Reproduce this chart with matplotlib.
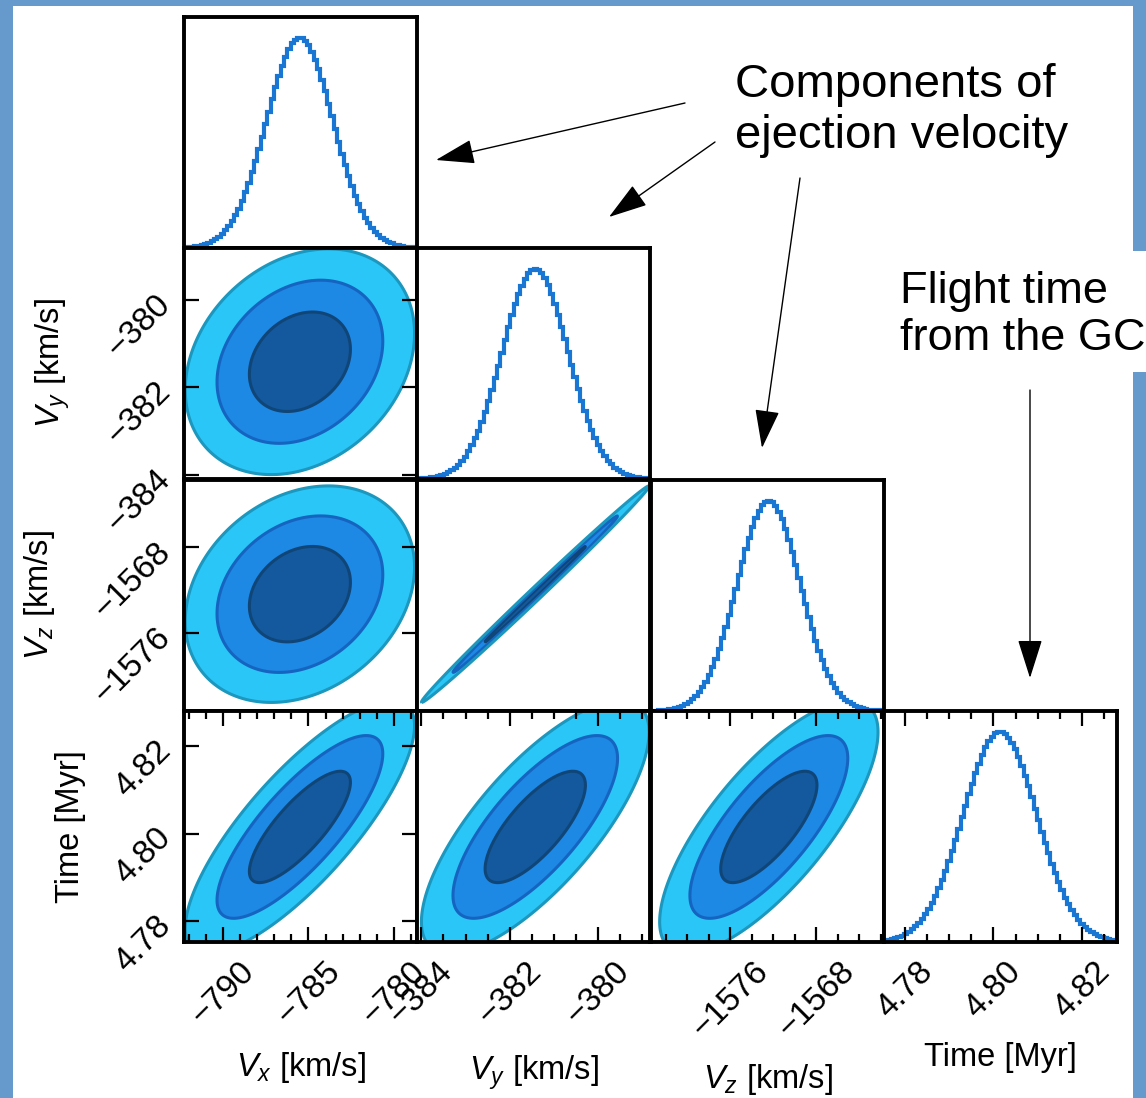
import numpy as np
import matplotlib
matplotlib.use("Agg")
import matplotlib.pyplot as plt
from matplotlib.ticker import MultipleLocator
from matplotlib.patches import Rectangle

plt.rcParams["font.family"] = ["Liberation Sans", "DejaVu Sans"]
plt.rcParams["mathtext.fontset"] = "custom"
plt.rcParams["mathtext.rm"] = "Liberation Sans"
plt.rcParams["mathtext.it"] = "Liberation Sans:italic"

# posterior summary
names = [r"$V_x$ [km/s]", r"$V_y$ [km/s]", r"$V_z$ [km/s]", "Time [Myr]"]
means = [-785.5, -381.42, -1572.4, 4.8015]
sigmas = [1.95, 0.75, 2.95, 0.0084]
corr = [[1.0, 0.25, 0.25, 0.8],
        [0.25, 1.0, 0.997, 0.75],
        [0.25, 0.997, 1.0, 0.75],
        [0.8, 0.75, 0.75, 1.0]]
limits = [(-792.28, -778.65), (-384.1, -378.82), (-1583.35, -1561.7), (4.7752, 4.8280)]
ticks = [[-790, -785, -780], [-384, -382, -380], [-1576, -1568], [4.78, 4.80, 4.82]]
tick_labels = [["\u2212790", "\u2212785", "\u2212780"],
               ["\u2212384", "\u2212382", "\u2212380"],
               ["\u22121576", "\u22121568"],
               ["4.78", "4.80", "4.82"]]
minor_steps = [1, 0.5, 2, 0.005]
probs = [0.6827, 0.9545, 0.9973]   # 1, 2, 3 sigma
nbins = 70

# colours
hist_col = "#1976D2"
fill_cols = ["#14599E", "#1E88E5", "#2BC6F8"]
line_cols = ["#0F4677", "#1565C0", "#1C97BD"]
frame_col = "#6699CC"

W, H = 1146, 1098
fig = plt.figure(figsize=(W / 100, H / 100), dpi=100, facecolor=frame_col)
fig.patches.append(Rectangle((13 / W, 0), (1133 - 13) / W, (H - 6) / H,
                             transform=fig.transFigure, facecolor="white",
                             edgecolor="none", zorder=-10))
fig.patches.append(Rectangle((1120 / W, 1 - 372 / H), 30 / W, 121 / H,
                             transform=fig.transFigure, facecolor="white",
                             edgecolor="none", zorder=-10))

col_x = [184, 417, 651, 884]
row_y = [17, 248, 480, 711]
pw, ph = 233, 231

xlabel_y = [-0.545, -0.567, -0.597, -0.498]
ylabel_x = [None, -0.565, -0.62, -0.485]

r2 = [-2 * np.log(1 - p) for p in probs]

for i in range(4):
    for j in range(i + 1):
        ax = fig.add_axes([col_x[j] / W, 1 - (row_y[i] + ph) / H, pw / W, ph / H])
        ax.set_axisbelow(False)
        for s in ax.spines.values():
            s.set_linewidth(2.8)
        ax.set_xlim(limits[j])

        if i == j:
            edges = np.linspace(limits[i][0], limits[i][1], nbins + 1)
            centres = 0.5 * (edges[1:] + edges[:-1])
            h = np.exp(-0.5 * ((centres - means[i]) / sigmas[i]) ** 2)
            ax.stairs(h, edges, color=hist_col, lw=3.0)
            ax.set_ylim(0, 1.1 * h.max())
        else:
            ax.set_ylim(limits[i])
            xs = np.linspace(limits[j][0], limits[j][1], 400)
            ys = np.linspace(limits[i][0], limits[i][1], 400)
            X, Y = np.meshgrid(xs, ys)
            u = (X - means[j]) / sigmas[j]
            v = (Y - means[i]) / sigmas[i]
            rho = corr[i][j]
            d2 = (u ** 2 - 2 * rho * u * v + v ** 2) / (1 - rho ** 2)
            ax.contourf(X, Y, d2, levels=[0] + r2, colors=fill_cols)
            ax.contour(X, Y, d2, levels=r2, colors=line_cols, linewidths=2.2)

        # x axis
        if i == 3:
            ax.set_xticks(ticks[j])
            ax.set_xticklabels(tick_labels[j], rotation=45, fontsize=24)
            ax.xaxis.set_minor_locator(MultipleLocator(minor_steps[j]))
            ax.tick_params(axis="x", which="both", direction="in", top=True,
                           bottom=True, width=1.6)
            ax.tick_params(axis="x", which="major", length=11, pad=10)
            ax.tick_params(axis="x", which="minor", length=6)
            ax.set_xlabel(names[j], fontsize=23.5, va="center")
            ax.xaxis.set_label_coords(0.5, xlabel_y[j])
        else:
            ax.set_xticks([])

        # y axis
        if j == 0 and i > 0:
            ax.set_yticks(ticks[i])
            ax.set_yticklabels(tick_labels[i], fontsize=24)
            for lab in ax.get_yticklabels():
                lab.set_rotation(45)
                lab.set_rotation_mode("anchor")
                lab.set_ha("right")
                lab.set_va("center")
            ax.tick_params(axis="y", which="major", direction="in", left=True,
                           right=True, length=11, width=1.6, pad=13)
            ax.set_ylabel(names[i], fontsize=23.5, va="center")
            ax.yaxis.set_label_coords(ylabel_x[i], 0.5)
        else:
            ax.set_yticks([])

# annotations on top, in picture pixels
ov = fig.add_axes([0, 0, 1, 1])
ov.set_xlim(0, W)
ov.set_ylim(H, 0)
ov.axis("off")

ov.text(735, 63, "Components of\nejection velocity", fontsize=34, ha="left", va="top")
ov.text(900, 271, "Flight time\nfrom the GC", fontsize=32.5, ha="left", va="top")

arrows = [((685, 103), (436, 160)),
          ((715, 142), (609, 217)),
          ((800, 178), (762, 448)),
          ((1030, 390), (1030, 678))]
for start, tip in arrows:
    ov.annotate("", xy=tip, xytext=start,
                arrowprops=dict(arrowstyle="-|>,head_length=0.98,head_width=0.31",
                                mutation_scale=25, lw=1.0, color="black",
                                shrinkA=0, shrinkB=0))

fig.savefig("out.png", dpi=100, facecolor=frame_col)
